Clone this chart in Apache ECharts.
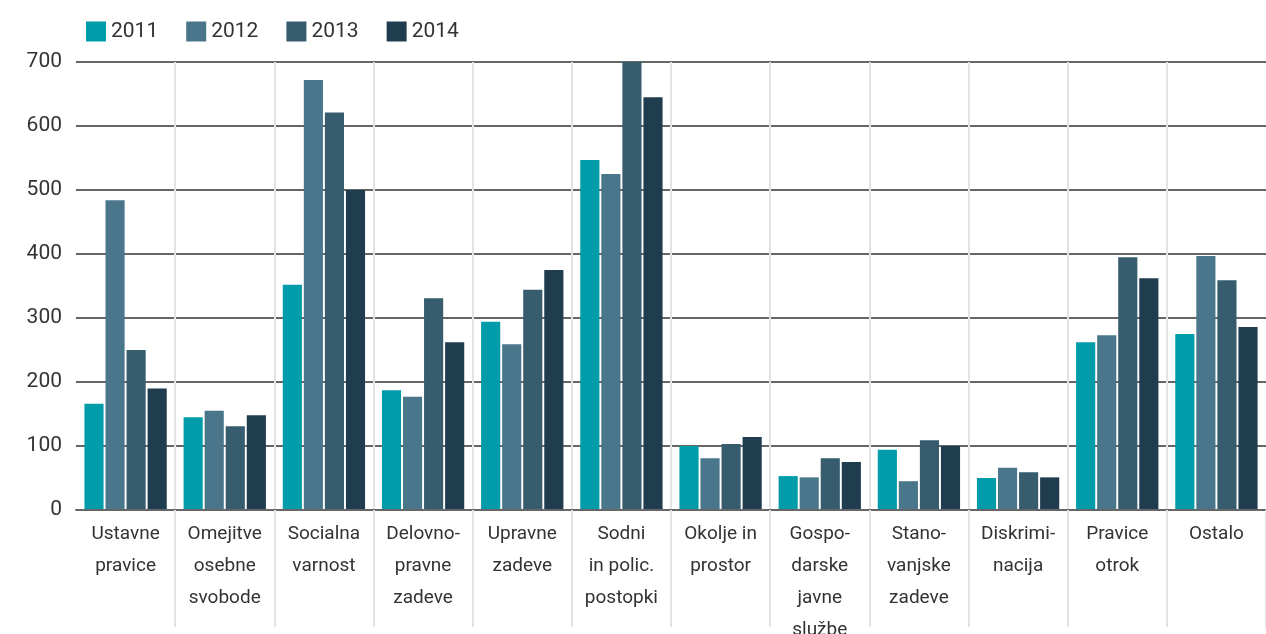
<!DOCTYPE html>
<html>
<head>
<meta charset="utf-8">
<script src="https://cdn.jsdelivr.net/npm/echarts@6/dist/echarts.min.js"></script>
<style>
html,body{margin:0;padding:0;background:#fff;}
#chart{width:1266px;height:634px;}
</style>
</head>
<body>
<div id="chart"></div>
<script>
const categories = [
  "Ustavne\npravice", "Omejitve\nosebne\nsvobode", "Socialna\nvarnost", "Delovno-\npravne\nzadeve",
  "Upravne\nzadeve", "Sodni\nin polic.\npostopki", "Okolje in\nprostor", "Gospo-\ndarske\njavne\nslužbe",
  "Stano-\nvanjske\nzadeve", "Diskrimi-\nnacija", "Pravice\notrok", "Ostalo"
];
const seriesNames = ["2011", "2012", "2013", "2014"];
const v2011 = [166, 145, 352, 187, 294, 547, 100, 53, 94, 50, 262, 275];
const v2012 = [484, 155, 672, 177, 259, 525, 81, 51, 45, 66, 273, 397];
const v2013 = [250, 131, 621, 331, 344, 700, 103, 81, 109, 59, 395, 359];
const v2014 = [190, 148, 500, 262, 375, 645, 114, 75, 100, 51, 362, 286];
const yTicks = [0, 100, 200, 300, 400, 500, 600, 700];
const colors = ["#009ca9", "#4a768c", "#375c6e", "#1f3d4e"];

const values = [v2011, v2012, v2013, v2014];
const font = "Roboto, 'Noto Sans', sans-serif";
const chart = echarts.init(document.getElementById('chart'), null, {renderer: 'canvas'});
chart.setOption({
  animation: false,
  color: colors,
  textStyle: {fontFamily: font},
  legend: {
    left: 81, top: 16,
    itemWidth: 20, itemHeight: 20, itemGap: 28,
    icon: 'rect',
    textStyle: {fontSize: 21, color: '#333', fontFamily: font},
    data: seriesNames
  },
  grid: {left: 76, right: 0, top: 62, bottom: 124, containLabel: false, outerBoundsMode: 'none'},
  xAxis: {
    type: 'category',
    data: categories,
    axisLine: {show: true, lineStyle: {color: '#666', width: 2}},
    axisTick: {show: true, length: 117, interval: function (i) { return i !== 0; }, lineStyle: {color: '#e3e3e3', width: 2}},
    splitLine: {show: true, showMinLine: false, showMaxLine: false, lineStyle: {color: '#e3e3e3', width: 2}},
    axisLabel: {fontSize: 19, color: '#333', lineHeight: 32, margin: 8, fontFamily: font, interval: 0},
    z: 3
  },
  yAxis: {
    type: 'value',
    min: 0, max: 700, interval: 100,
    axisLine: {show: false},
    axisTick: {show: false},
    splitLine: {show: true, lineStyle: {color: '#666', width: 2}},
    axisLabel: {fontSize: 21, color: '#333', margin: 14, fontFamily: font,
      formatter: function (v) { return yTicks.indexOf(v) >= 0 ? String(v) : ''; }}
  },
  series: seriesNames.map(function (name, k) {
    return {
      name: name,
      type: 'bar',
      data: values[k],
      barGap: '10%',
      barCategoryGap: '17%',
      itemStyle: {color: colors[k]},
      z: 2
    };
  })
});
</script>
</body>
</html>
